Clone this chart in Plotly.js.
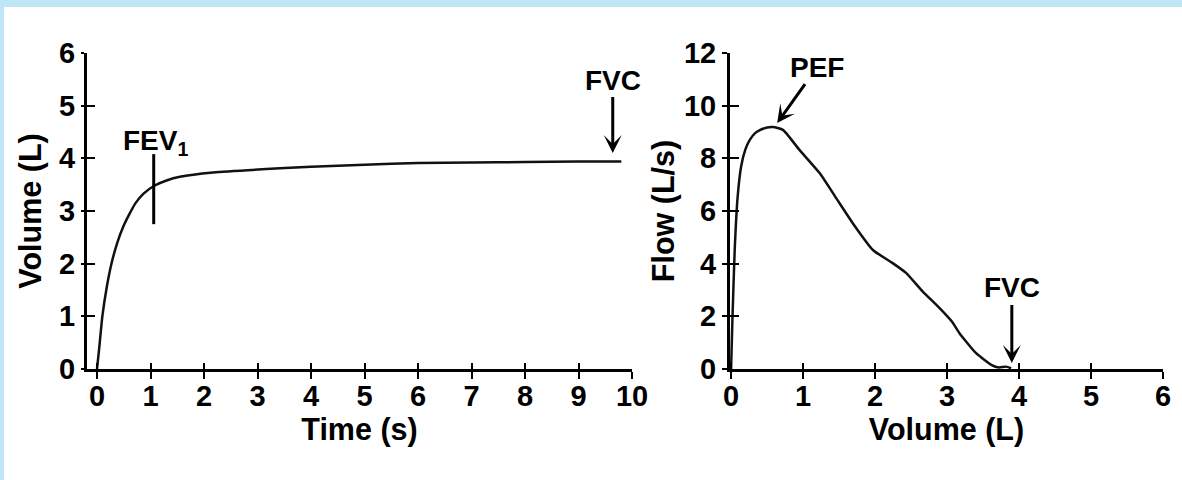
<!DOCTYPE html>
<html>
<head>
<meta charset="utf-8">
<script src="https://cdn.plot.ly/plotly-3.0.1.min.js"></script>
<style>html,body{margin:0;padding:0;background:#fff;}#chart{width:1182px;height:480px;}</style>
</head>
<body>
<div id="chart"></div>
<script>
// Volume-time curve (left)
const timeS = [0, 0.04, 0.1, 0.19, 0.27, 0.38, 0.49, 0.6, 0.72, 0.87, 1.07, 1.3, 1.55, 2.17, 3.42, 4, 5, 6, 7, 8, 9, 9.8];
const volumeL = [0, 0.38, 1.0, 1.6, 2.0, 2.4, 2.7, 2.93, 3.15, 3.33, 3.48, 3.58, 3.65, 3.73, 3.81, 3.84, 3.88, 3.91, 3.92, 3.93, 3.94, 3.94];
// Flow-volume curve (right)
const fvVolume = [0, 0.01, 0.02, 0.05, 0.09, 0.14, 0.2, 0.26, 0.33, 0.40, 0.5, 0.58, 0.72, 0.95, 1.23, 1.46, 1.7, 1.97, 2.24, 2.43, 2.66, 2.9, 3.07, 3.17, 3.4, 3.62, 3.72, 3.82, 3.89];
const fvFlow = [0, 1.0, 2.0, 4.5, 6.5, 7.7, 8.35, 8.7, 8.95, 9.07, 9.17, 9.19, 9.08, 8.32, 7.44, 6.49, 5.5, 4.52, 4.03, 3.65, 2.95, 2.3, 1.79, 1.37, 0.61, 0.15, 0.06, 0.09, 0.03];
// Tick labels
const timeTicks = [0,1,2,3,4,5,6,7,8,9,10];
const volTicks = [0,1,2,3,4,5,6];
const fvVolTicks = [0,1,2,3,4,5,6];
const flowTicks = [0,2,4,6,8,10,12];
// Annotation values
const fev1Time = 1.06, fev1Low = 2.75, fev1High = 4.08;
const fvcTime = 9.64, fvcTipVol = 4.10;
const pefVol = 0.64, pefTip = 9.34;
const fvcVol = 3.90, fvcTipFlow = 0.23;

const FONT = 'Liberation Sans';
const TICK_SIZE = 29;
function tickFont() { return {family: FONT, size: TICK_SIZE, color: '#000', weight: 700}; }
function titleFont() { return {family: FONT, size: 30.5, color: '#000', weight: 700}; }
const annFont = {family: FONT, size: 28, color: '#000', weight: 700};

const lineStyle = {color: '#111', width: 2.5, shape: 'spline', smoothing: 0.5};

const traces = [
  {x: timeS, y: volumeL, xaxis: 'x', yaxis: 'y', mode: 'lines', line: lineStyle, hoverinfo: 'skip'},
  {x: fvVolume, y: fvFlow, xaxis: 'x2', yaxis: 'y2', mode: 'lines', line: lineStyle, hoverinfo: 'skip'},
  {x: [], y: [], xaxis: 'x3', yaxis: 'y3', mode: 'lines'},
  {x: [], y: [], xaxis: 'x4', yaxis: 'y4', mode: 'lines'}
];

const W = 1182, H = 480;
const leftDom = [87 / W, 632 / W];
const rightDom = [730 / W, 1163 / W];
const yDom = [1 - 369 / H, 1 - 53 / H];

function axBase(extra) {
  return Object.assign({
    showline: true, linewidth: 3, linecolor: '#000', showgrid: false, zeroline: false,
    ticks: 'outside', tickwidth: 2, tickcolor: '#000', tickfont: tickFont(), fixedrange: true,
    tickmode: 'array'
  }, extra);
}
function overlay(extra) {
  return Object.assign({
    showline: false, showgrid: false, zeroline: false, ticks: 'inside', tickwidth: 2,
    tickcolor: '#000', showticklabels: false, fixedrange: true, tickmode: 'array'
  }, extra);
}

const layout = {
  width: W, height: H,
  margin: {l: 0, r: 0, t: 0, b: 0},
  paper_bgcolor: '#fff', plot_bgcolor: 'rgba(0,0,0,0)',
  showlegend: false,
  font: {family: FONT, size: TICK_SIZE, color: '#000', weight: 700},
  xaxis: axBase({domain: leftDom, range: [-0.187, 10], anchor: 'y', tickvals: timeTicks, ticktext: timeTicks.map(String), ticklen: 7, ticklabelstandoff: -8,
    title: {text: 'Time (s)', font: titleFont(), standoff: 8}}),
  yaxis: axBase({domain: yDom, range: [0, 6], anchor: 'x', tickvals: volTicks, ticktext: volTicks.map(String), ticklen: 3,
    title: {text: 'Volume (L)', font: titleFont(), standoff: 9}}),
  xaxis2: axBase({domain: rightDom, range: [-0.015, 6], anchor: 'y2', tickvals: fvVolTicks, ticktext: fvVolTicks.map(String), ticklen: 7, ticklabelstandoff: -8,
    title: {text: 'Volume (L)', font: titleFont(), standoff: 8}}),
  yaxis2: axBase({domain: yDom, range: [0, 12], anchor: 'x2', tickvals: flowTicks, ticktext: flowTicks.map(String), ticklen: 5,
    title: {text: 'Flow (L/s)', font: titleFont(), standoff: 1}}),
  xaxis3: overlay({domain: leftDom, range: [-0.187, 10], overlaying: 'x', anchor: 'y', tickvals: timeTicks, ticklen: 6}),
  yaxis3: overlay({domain: yDom, range: [0, 6], overlaying: 'y', anchor: 'x', tickvals: volTicks, ticklen: 8}),
  xaxis4: overlay({domain: rightDom, range: [-0.015, 6], overlaying: 'x2', anchor: 'y2', tickvals: fvVolTicks, ticklen: 6}),
  yaxis4: overlay({domain: yDom, range: [0, 12], overlaying: 'y2', anchor: 'x2', tickvals: flowTicks, ticklen: 9}),
  shapes: [
    {type: 'rect', xref: 'paper', yref: 'paper', x0: 0, x1: 1, y0: 1 - 7 / H, y1: 1, fillcolor: '#bee6f6', line: {width: 0}, layer: 'below'},
    {type: 'rect', xref: 'paper', yref: 'paper', x0: 0, x1: 4 / W, y0: 0, y1: 1, fillcolor: '#bee6f6', line: {width: 0}, layer: 'below'},
    {type: 'line', xref: 'x', yref: 'y', x0: fev1Time, x1: fev1Time, y0: fev1Low, y1: fev1High, line: {color: '#000', width: 3}}
  ],
  annotations: [
    {xref: 'x', yref: 'y', x: 0.45, y: 4.3, xanchor: 'left', yanchor: 'middle', showarrow: false,
     text: 'FEV<sub>1</sub>', font: annFont},
    {xref: 'x', yref: 'y', x: fvcTime, y: fvcTipVol, ax: 0, ay: -73, showarrow: true, arrowhead: 3, arrowsize: 1, arrowwidth: 3, arrowcolor: '#000',
     text: 'FVC', font: annFont},
    {xref: 'x2', yref: 'y2', x: pefVol, y: pefTip, ax: 40, ay: -56, showarrow: true, arrowhead: 3, arrowsize: 1, arrowwidth: 3, arrowcolor: '#000',
     text: 'PEF', font: annFont},
    {xref: 'x2', yref: 'y2', x: fvcVol, y: fvcTipFlow, ax: 0, ay: -75, showarrow: true, arrowhead: 3, arrowsize: 1, arrowwidth: 3, arrowcolor: '#000',
     text: 'FVC', font: annFont}
  ]
};

Plotly.newPlot('chart', traces, layout, {displayModeBar: false, staticPlot: true});
</script>
</body>
</html>
